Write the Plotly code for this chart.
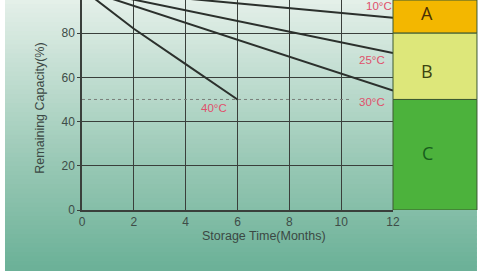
import plotly.graph_objects as go
import numpy as np

# ---- data ----
months_lin = [0, 12]
cap_10c = [100, 87]
cap_25c = [100, 71]
cap_30c = [100, 54]
months_40c = [0, 2, 4, 6]
cap_40c = [100, 82, 66, 50]
temp_labels = ["10°C", "25°C", "30°C", "40°C"]
label_x = [11.45, 11.2, 11.2, 5.1]
label_y = [92.5, 68, 48.8, 46]
x_ticks = [0, 2, 4, 6, 8, 10, 12]
y_ticks = [0, 20, 40, 60, 80]
grades = ["A", "B", "C"]
grade_lo = [80, 50, 0]
grade_hi = [95, 80, 50]
grade_label_y = [89, 63, 26]
grade_fill = ["#f3b700", "#dde77a", "#4cb23c"]
grade_text = ["#4a3005", "#3c4410", "#175e1c"]
threshold = 50
threshold_x = [0, 10.35]

fig = go.Figure()
line_style = dict(color="#2b302c", width=2)
for xs, ys in [(months_lin, cap_10c), (months_lin, cap_25c), (months_lin, cap_30c), (months_40c, cap_40c)]:
    fig.add_trace(go.Scatter(x=xs, y=ys, mode="lines", line=line_style, showlegend=False, hoverinfo="skip"))

# dotted threshold
fig.add_trace(go.Scatter(x=threshold_x, y=[threshold, threshold], mode="lines",
                         line=dict(color="#7a7f7a", width=1, dash="dot"), showlegend=False, hoverinfo="skip"))

shapes = []
# background gradient
top = np.array([0xe4, 0xf0, 0xe9])
mid = np.array([0x9a, 0xc9, 0xb6])
bot = np.array([0x6c, 0xb1, 0x98])
n = 60
y_top, y_bot = 1.0, -0.2905
for i in range(n):
    t = i / (n - 1)
    if t < 0.6:
        c = top + (mid - top) * (t / 0.6)
    else:
        c = mid + (bot - mid) * ((t - 0.6) / 0.4)
    y1 = y_top + (y_bot - y_top) * i / n
    y0 = y_top + (y_bot - y_top) * (i + 1) / n
    shapes.append(dict(type="rect", xref="paper", yref="paper", x0=-0.2476, x1=1.27,
                       y0=y0 - 0.004, y1=y1 + 0.004, fillcolor="rgb(%d,%d,%d)" % tuple(c.astype(int)),
                       line=dict(width=0), layer="below"))

for lo, hi, fc in zip(grade_lo, grade_hi, grade_fill):
    shapes.append(dict(type="rect", xref="paper", yref="y", x0=1.0, x1=1.27, y0=lo, y1=hi,
                       fillcolor=fc, line=dict(color="#3c5a32", width=1), layer="above"))

annotations = []
for g, gy, tc in zip(grades, grade_label_y, grade_text):
    annotations.append(dict(text=g, x=1.135, y=gy, xref="paper", yref="y",
                            showarrow=False, font=dict(size=18, color=tc, family="Open Sans")))

for t, x, y in zip(temp_labels, label_x, label_y):
    annotations.append(dict(text=t, x=x, y=y, xref="x", yref="y", showarrow=False,
                            font=dict(size=11.5, color="#e0506b", family="Liberation Sans")))

annotations.append(dict(text="Storage Time(Months)", x=(264 - 82) / 311, y=-0.167, xref="paper", yref="paper",
                        showarrow=False, font=dict(size=12.5, color="#3b4844", family="Liberation Sans")))
annotations.append(dict(text="Remaining Capacity(%)", x=-0.165, y=(210 - 108) / 210, xref="paper", yref="paper",
                        showarrow=False, textangle=-90,
                        font=dict(size=12.5, color="#3b4844", family="Liberation Sans")))

fig.update_layout(
    width=480, height=271,
    margin=dict(l=82, r=87, t=0, b=61),
    paper_bgcolor="white",
    plot_bgcolor="#eaf3ee",
    shapes=shapes,
    annotations=annotations,
    showlegend=False,
    xaxis=dict(range=[0, 12], tickvals=x_ticks, ticktext=[str(v) for v in x_ticks],
               showgrid=True, gridcolor="#3a3f3b", gridwidth=1.3, zeroline=False,
               showline=True, linecolor="#3a3f3b", linewidth=1.5,
               ticks="", tickfont=dict(size=12, color="#3e4c47", family="Liberation Sans")),
    yaxis=dict(range=[0, 95], tickvals=y_ticks, ticktext=[str(v) for v in y_ticks],
               showgrid=True, gridcolor="#3a3f3b", gridwidth=1.3, zeroline=False,
               showline=True, linecolor="#3a3f3b", linewidth=1.5,
               ticks="outside", ticklen=3, tickcolor="#3a3f3b",
               tickfont=dict(size=12, color="#3e4c47", family="Liberation Sans")),
)

fig.write_html("out.html", config={"displayModeBar": False},
               post_script="document.body.style.margin='0';document.body.style.padding='0';")
